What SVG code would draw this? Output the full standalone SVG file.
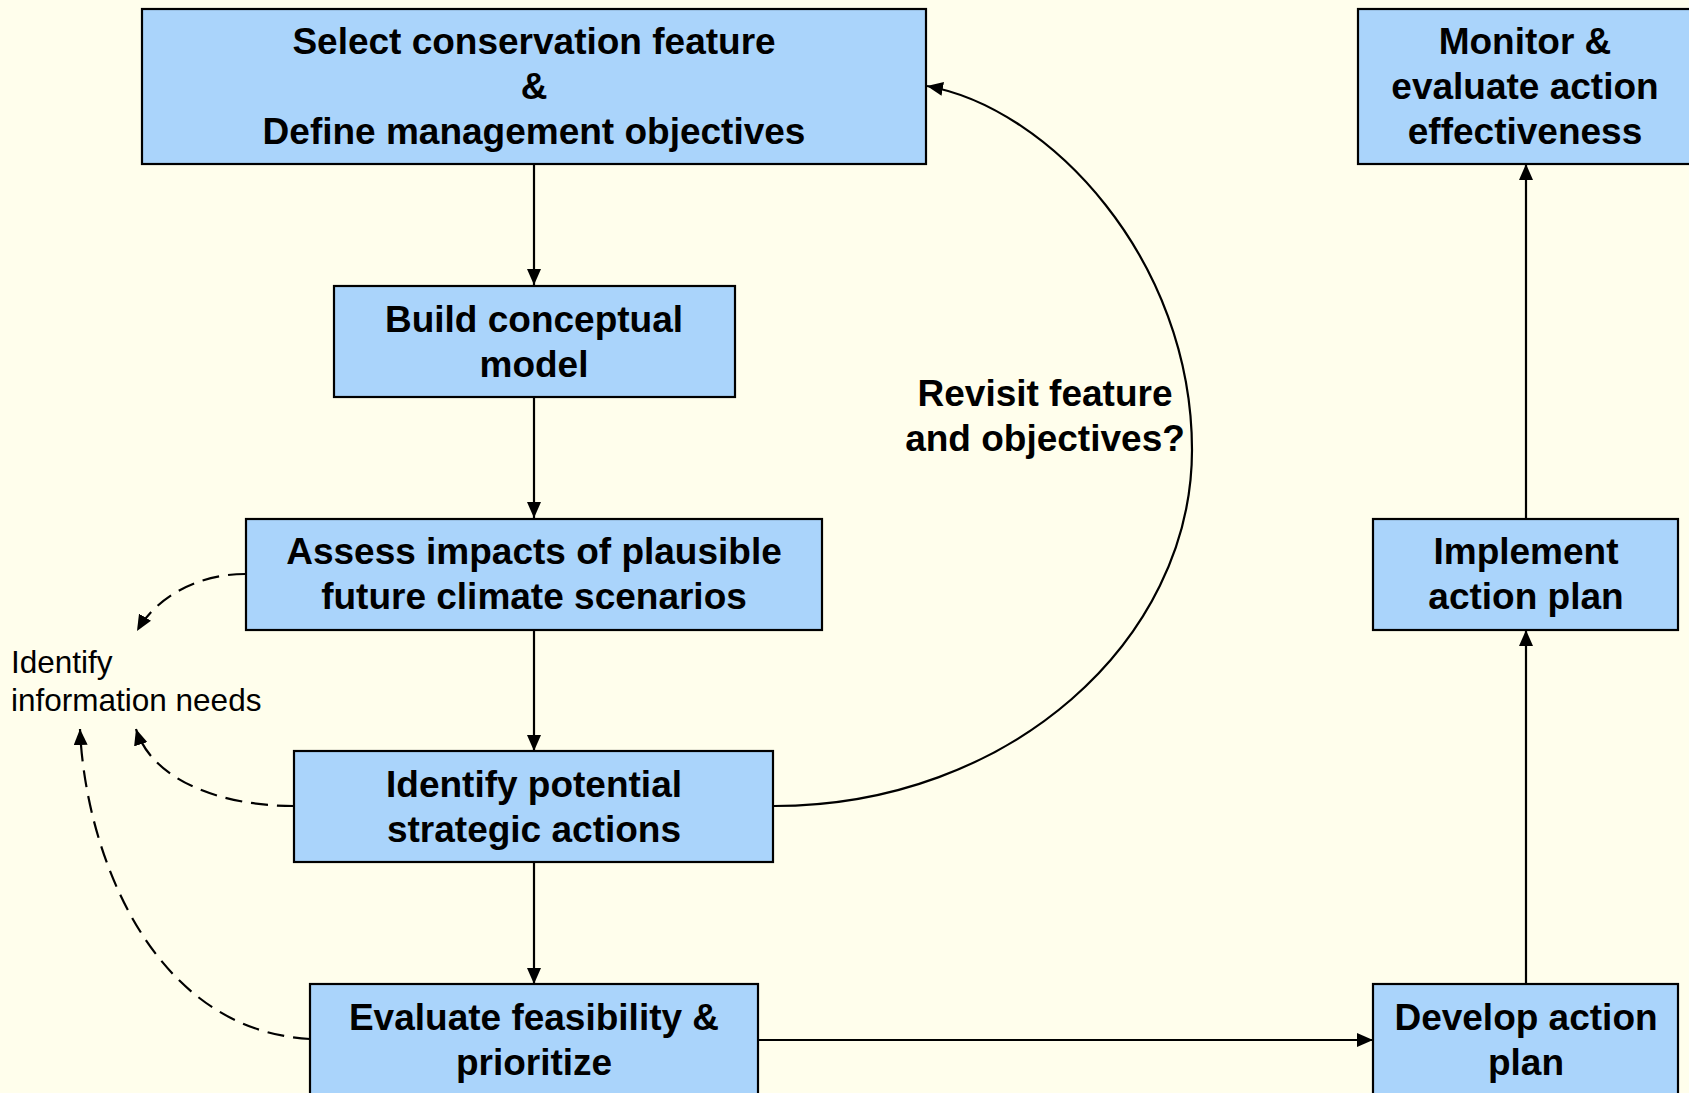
<svg xmlns="http://www.w3.org/2000/svg" width="1689" height="1093" viewBox="0 0 1689 1093">
<defs>
<style>
.bg{fill:#FFFEEC}
.box{fill:#AAD4FB;stroke:#000;stroke-width:2.2}
.t{font-family:"Liberation Sans",Arial,sans-serif;font-weight:bold;font-size:37px;fill:#000;text-anchor:middle}
.n{font-family:"Liberation Sans",Arial,sans-serif;font-size:31.5px;fill:#000}
.c{fill:none;stroke:#000;stroke-width:2.2}
.d{fill:none;stroke:#000;stroke-width:2.2;stroke-dasharray:17 9}
</style>
<marker id="ah" viewBox="0 0 16 14" refX="16" refY="7" markerWidth="16" markerHeight="14" markerUnits="userSpaceOnUse" orient="auto">
<path d="M0,0 L16,7 L0,14 Z" fill="#000"/>
</marker>
</defs>
<rect class="bg" x="0" y="0" width="1689" height="1093"/>

<g id="connectors">
<line class="c" x1="534" y1="164" x2="534" y2="285" marker-end="url(#ah)"/>
<line class="c" x1="534" y1="397" x2="534" y2="518" marker-end="url(#ah)"/>
<line class="c" x1="534" y1="630" x2="534" y2="751" marker-end="url(#ah)"/>
<line class="c" x1="534" y1="863" x2="534" y2="984" marker-end="url(#ah)"/>
<line class="c" x1="759" y1="1040" x2="1373" y2="1040" marker-end="url(#ah)"/>
<line class="c" x1="1526" y1="984" x2="1526" y2="630" marker-end="url(#ah)"/>
<line class="c" x1="1526" y1="518" x2="1526" y2="164" marker-end="url(#ah)"/>
<path class="c" d="M774,806 C1010,806 1192,640 1192,450 C1192,260 1050,108 927,86" marker-end="url(#ah)"/>
<path class="d" d="M245,574 C200,574 158,595 137,631" marker-end="url(#ah)"/>
<path class="d" d="M294,806 C220,806 152,780 136,729" marker-end="url(#ah)"/>
<path class="d" d="M310,1039 C150,1030 85,850 80,729" marker-end="url(#ah)"/>
</g>

<g id="node-select">
<rect class="box" x="142" y="9" width="784" height="155"/>
<text class="t" x="534" y="54">Select conservation feature</text>
<text class="t" x="534" y="99">&amp;</text>
<text class="t" x="534" y="144">Define management objectives</text>
</g>

<g id="node-monitor">
<rect class="box" x="1358" y="9" width="340" height="155"/>
<text class="t" x="1525" y="54">Monitor &amp;</text>
<text class="t" x="1525" y="99">evaluate action</text>
<text class="t" x="1525" y="144">effectiveness</text>
</g>

<g id="node-build">
<rect class="box" x="334" y="286" width="401" height="111"/>
<text class="t" x="534" y="332">Build conceptual</text>
<text class="t" x="534" y="377">model</text>
</g>

<g id="node-assess">
<rect class="box" x="246" y="519" width="576" height="111"/>
<text class="t" x="534" y="564">Assess impacts of plausible</text>
<text class="t" x="534" y="609">future climate scenarios</text>
</g>

<g id="node-identify">
<rect class="box" x="294" y="751" width="479" height="111"/>
<text class="t" x="534" y="797">Identify potential</text>
<text class="t" x="534" y="842">strategic actions</text>
</g>

<g id="node-evaluate">
<rect class="box" x="310" y="984" width="448" height="120"/>
<text class="t" x="534" y="1030">Evaluate feasibility &amp;</text>
<text class="t" x="534" y="1075">prioritize</text>
</g>

<g id="node-implement">
<rect class="box" x="1373" y="519" width="305" height="111"/>
<text class="t" x="1526" y="564">Implement</text>
<text class="t" x="1526" y="609">action plan</text>
</g>

<g id="node-develop">
<rect class="box" x="1373" y="984" width="305" height="120"/>
<text class="t" x="1526" y="1030">Develop action</text>
<text class="t" x="1526" y="1075">plan</text>
</g>

<g id="label-revisit">
<text class="t" x="1045" y="406">Revisit feature</text>
<text class="t" x="1045" y="451">and objectives?</text>
</g>

<g id="label-info">
<text class="n" x="11" y="673">Identify</text>
<text class="n" x="11" y="711">information needs</text>
</g>
</svg>
